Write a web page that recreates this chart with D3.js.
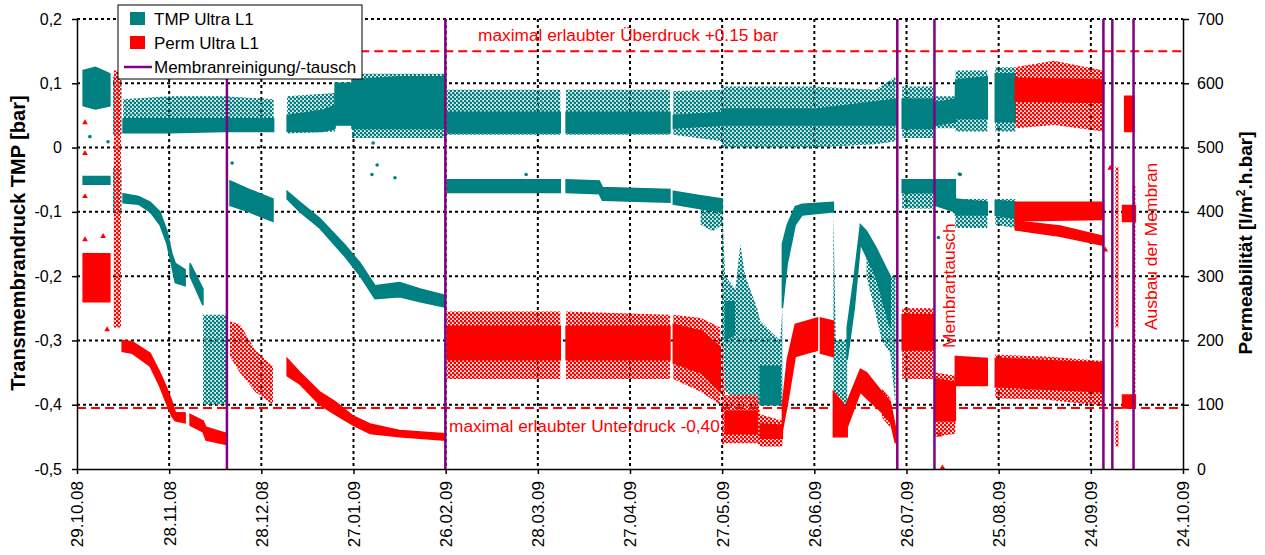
<!DOCTYPE html>
<html>
<head>
<meta charset="utf-8">
<script src="https://d3js.org/d3.v7.min.js"></script>
<style>
  body { margin: 0; background: #fff; }
  text { font-family: Arial, "Liberation Sans", sans-serif; }
</style>
</head>
<body>
<div class="chart"></div>
<script>
// days counted from 29.10.08; TMP values in bar (left axis), Perm in l/m2.h.bar (right axis)
// each band: [day, low, high]
var tmpDense = [
  [[2, 0.065, 0.12], [6, 0.06, 0.125], [10.7, 0.065, 0.115]],
  [[15, 0.023, 0.045], [30, 0.023, 0.045], [48, 0.025, 0.045], [64, 0.025, 0.045]],
  [[68.4, 0.025, 0.05], [80, 0.025, 0.058], [84, 0.03, 0.065]],
  [[84, 0.035, 0.1], [89.5, 0.035, 0.1]],
  [[89.5, 0.03, 0.105], [105, 0.03, 0.11], [120, 0.03, 0.11]],
  [[120.5, 0.023, 0.055], [157.3, 0.023, 0.055]],
  [[159.2, 0.023, 0.055], [193, 0.023, 0.055]],
  [[194.1, 0.03, 0.05], [210, 0.035, 0.055]],
  [[210, 0.035, 0.06], [241, 0.035, 0.06], [266.4, 0.035, 0.075]],
  [[268.6, 0.03, 0.075], [278.7, 0.03, 0.075]],
  [[279.4, 0.035, 0.07], [285.9, 0.04, 0.075], [286, 0.045, 0.105], [296.3, 0.045, 0.11]],
  [[298.9, 0.04, 0.115], [305.4, 0.04, 0.115]],
  [[2, -0.057, -0.045], [10.7, -0.057, -0.045]],
  [[15, -0.086, -0.072], [20, -0.088, -0.076], [23.8, -0.1, -0.085], [27, -0.12, -0.1], [29.3, -0.15, -0.13],
   [30.9, -0.185, -0.165], [32, -0.21, -0.18], [35.2, -0.215, -0.19]],
  [[36.8, -0.2, -0.18], [41, -0.245, -0.22]],
  [[49.8, -0.09, -0.052], [56, -0.1, -0.065], [63.8, -0.115, -0.08]],
  [[68.4, -0.08, -0.068], [72.6, -0.1, -0.085], [79, -0.125, -0.11], [87.3, -0.17, -0.152], [92.2, -0.2, -0.18],
   [97, -0.235, -0.215], [105, -0.232, -0.21], [111.7, -0.24, -0.22], [119.8, -0.248, -0.23]],
  [[120.5, -0.07, -0.05], [157.3, -0.07, -0.05]],
  [[159.2, -0.07, -0.05], [170, -0.072, -0.052], [171, -0.082, -0.062], [193, -0.085, -0.065]],
  [[194.1, -0.088, -0.068], [203, -0.095, -0.075], [210, -0.1, -0.08]],
  [[211, -0.3, -0.24], [214, -0.29, -0.24]],
  [[222.4, -0.4, -0.34], [228.9, -0.4, -0.34]],
  [[229.6, -0.25, -0.15], [231.2, -0.18, -0.12], [233.8, -0.12, -0.092], [236, -0.105, -0.088], [246.2, -0.1, -0.085]],
  [[250.7, -0.33, -0.28], [253, -0.25, -0.2], [255, -0.15, -0.12], [257, -0.17, -0.13], [260, -0.2, -0.155], [264.7, -0.28, -0.2]],
  [[268.6, -0.07, -0.05], [278.7, -0.07, -0.05]],
  [[279.4, -0.09, -0.05], [285.9, -0.1, -0.05]],
  [[285.9, -0.105, -0.08], [296.3, -0.105, -0.085]],
  [[298.9, -0.105, -0.082], [305.4, -0.11, -0.085]]
];
var tmpSparse = [
  [[11.7, 0.02, 0.11], [14.5, 0.02, 0.11]],
  [[11.7, -0.1, -0.03], [14.5, -0.1, -0.03]],
  [[15, 0.023, 0.075], [30, 0.023, 0.08], [48, 0.025, 0.08], [64, 0.025, 0.075]],
  [[68.4, 0.022, 0.08], [84, 0.025, 0.085]],
  [[89.5, 0.015, 0.115], [120, 0.015, 0.115]],
  [[120.5, 0.02, 0.09], [157.3, 0.02, 0.09]],
  [[159.2, 0.02, 0.09], [193, 0.02, 0.09]],
  [[194.1, 0.02, 0.088], [210, 0.01, 0.09]],
  [[210, 0.0, 0.095], [240, 0.0, 0.095], [260, 0.005, 0.09], [266.4, 0.01, 0.11]],
  [[268.6, 0.015, 0.095], [278.7, 0.015, 0.095]],
  [[279.4, 0.03, 0.08], [285.9, 0.03, 0.08], [286, 0.025, 0.12], [296.3, 0.025, 0.12]],
  [[298.9, 0.025, 0.125], [305.4, 0.025, 0.125]],
  [[41, -0.4, -0.26], [48.5, -0.4, -0.26]],
  [[203, -0.12, -0.075], [207, -0.13, -0.08], [210, -0.12, -0.09]],
  [[210, -0.3, -0.1], [211, -0.38, -0.2], [214.3, -0.39, -0.22], [215.9, -0.4, -0.15], [217.5, -0.39, -0.2],
   [221.4, -0.4, -0.25], [222.4, -0.4, -0.27], [228.9, -0.4, -0.3], [229.6, -0.4, -0.25]],
  [[246.2, -0.4, -0.1], [247, -0.4, -0.3], [250.7, -0.4, -0.3]],
  [[257, -0.2, -0.13], [262, -0.3, -0.18], [264.7, -0.32, -0.2], [266.4, -0.4, -0.2]],
  [[268.6, -0.095, -0.05], [278.7, -0.095, -0.05]],
  [[285.9, -0.125, -0.08], [296.3, -0.125, -0.08]],
  [[298.9, -0.12, -0.08], [305.4, -0.125, -0.08]]
];
var permDense = [
  [[2, 260, 335], [10.7, 260, 335]],
  [[14.7, 183, 200], [18, 180, 198], [23.8, 160, 180], [27, 128, 150], [29.3, 100, 125], [30.9, 82, 105], [32, 75, 88], [35.2, 72, 87]],
  [[36.8, 68, 85], [41, 58, 75], [42, 45, 65], [48.8, 38, 55]],
  [[68.4, 145, 172], [72.6, 132, 150], [79, 100, 120], [84, 85, 105], [90, 68, 82], [95.4, 55, 70], [105, 50, 60], [119.8, 45, 55]],
  [[120.5, 170, 222], [157.3, 170, 222]],
  [[159.2, 170, 222], [193, 170, 222]],
  [[194.1, 165, 225], [203, 150, 215], [209.4, 120, 190]],
  [[211, 55, 90], [221.4, 55, 90]],
  [[222.4, 48, 70], [229.6, 48, 68]],
  [[229.6, 60, 100], [231.2, 100, 170], [233.8, 175, 225], [241, 185, 235]],
  [[242, 180, 235], [246.2, 175, 230]],
  [[246.2, 50, 120], [250.7, 50, 95]],
  [[250.7, 65, 105], [255, 120, 155], [257, 110, 150], [262, 88, 120], [264.7, 75, 105], [266.4, 40, 65]],
  [[268.6, 185, 240], [278.7, 185, 240]],
  [[279.4, 75, 140], [285.9, 75, 135]],
  [[285.9, 130, 175], [296.3, 130, 172]],
  [[298.9, 128, 172], [334.1, 120, 165]],
  [[305.4, 386, 415], [334.1, 388, 415]],
  [[305.4, 372, 386], [320, 362, 378], [334.1, 348, 362]],
  [[305.4, 572, 608], [334.1, 570, 605]],
  [[340.3, 385, 410], [344.5, 385, 410]],
  [[340.3, 95, 115], [344.5, 95, 115]],
  [[341, 525, 580], [344, 525, 580]]
];
var permSparse = [
  [[12, 220, 620], [14.3, 220, 620]],
  [[49.8, 175, 230], [53, 150, 225], [58, 120, 185], [63.8, 100, 160]],
  [[120.5, 140, 245], [157.3, 140, 245]],
  [[159.2, 140, 245], [193, 140, 240]],
  [[194.1, 140, 240], [203, 120, 235], [209.4, 100, 220]],
  [[210, 35, 200], [211, 40, 115], [221.4, 40, 115], [222.4, 35, 85], [229.6, 35, 75]],
  [[262, 80, 125], [264.7, 65, 110]],
  [[268.6, 140, 250], [278.7, 140, 250]],
  [[279.4, 50, 150], [285.9, 55, 145]],
  [[298.9, 110, 178], [315, 108, 175], [334.1, 98, 168]],
  [[305.4, 530, 625], [318, 535, 635], [334.1, 525, 620]],
  [[338, 220, 470], [339, 220, 470]],
  [[338, 35, 75], [339, 35, 75]],
  [[343.6, 100, 440], [344.5, 100, 440]]
];
var tmpStray = [[4.2, 0.017], [10.1, 0.009], [50.5, -0.024], [97.7, -0.027], [103.5, -0.047], [96.4, 0.007],
  [96, -0.042], [146.2, -0.042], [287.5, -0.042], [280.4, -0.14], [287.2, -0.041]];
var permStray = [[2.6, 424], [2.6, 357], [8.5, 362], [9.8, 217], [2.6, 539], [2.6, 491], [281.7, 2],
  [280.7, 53], [334.7, 341], [336.3, 468]];
var events = [48.8, 119.9, 267, 279.1, 334.1, 337, 343.9];
var xTicks = d3.range(0, 361, 30);
var tmpTicks = [-0.5, -0.4, -0.3, -0.2, -0.1, 0, 0.1, 0.2];
var permTicks = [0, 100, 200, 300, 400, 500, 600, 700];
var maxOver = 0.15, maxUnder = -0.405, overFrom = 92.2;

var teal = '#008080', red = '#ff0000', purple = '#800080';
var plotLeft = 77, plotRight = 1183, plotTop = 19, plotBottom = 469;

var svg = d3.select('.chart').append('svg')
  .attr('width', 1265)
  .attr('height', 555);

var start = Date.UTC(2008, 9, 29);
function day(d) { return new Date(start + d * 864e5); }
var x = d3.scaleUtc().domain([day(0), day(360)]).range([plotLeft, plotRight]);
var yL = d3.scaleLinear().domain([-0.5, 0.2]).range([plotBottom, plotTop]);
var yR = d3.scaleLinear().domain([0, 700]).range([plotBottom, plotTop]);

var defs = svg.append('defs');
[['dotsTeal', teal], ['dotsRed', red]].forEach(function(p) {
  var pat = defs.append('pattern').attr('id', p[0])
    .attr('width', 4).attr('height', 4).attr('patternUnits', 'userSpaceOnUse');
  pat.append('circle').attr('cx', 1).attr('cy', 1).attr('r', 1.4).attr('fill', p[1]);
  pat.append('circle').attr('cx', 3).attr('cy', 3).attr('r', 1.4).attr('fill', p[1]);
});

// grid
var grid = svg.append('g')
  .attr('stroke', '#000').attr('stroke-width', 2).attr('stroke-dasharray', '3,3');
grid.selectAll('line.h').data(tmpTicks.slice(1)).join('line').attr('class', 'h')
  .attr('x1', plotLeft).attr('x2', plotRight)
  .attr('y1', function(d) { return yL(d); }).attr('y2', function(d) { return yL(d); });
grid.selectAll('line.v').data(xTicks.slice(1, -1)).join('line').attr('class', 'v')
  .attr('y1', plotTop).attr('y2', plotBottom)
  .attr('x1', function(d) { return x(day(d)); }).attr('x2', function(d) { return x(day(d)); });

// limits
var limits = svg.append('g').attr('stroke', red).attr('stroke-width', 2).attr('stroke-dasharray', '9,5');
limits.append('line').attr('x1', x(day(overFrom))).attr('x2', plotRight)
  .attr('y1', yL(maxOver)).attr('y2', yL(maxOver));
limits.append('line').attr('x1', plotLeft).attr('x2', plotRight)
  .attr('y1', yL(maxUnder)).attr('y2', yL(maxUnder));
svg.append('text').text('maximal erlaubter Überdruck +0.15 bar')
  .attr('x', 478).attr('y', yL(maxOver) - 10).attr('fill', red).attr('font-size', 17.3);
svg.append('text').text('maximal erlaubter Unterdruck -0,40 bar')
  .attr('x', 449).attr('y', yL(maxUnder) + 24).attr('fill', red).attr('font-size', 17.3);

// data bands
function band(y) {
  return d3.area()
    .x(function(d) { return x(day(d[0])); })
    .y0(function(d) { return y(d[1]); })
    .y1(function(d) { return y(d[2]); });
}
svg.append('g').selectAll('path').data(tmpSparse).join('path')
  .attr('d', band(yL)).attr('fill', 'url(#dotsTeal)');
svg.append('g').selectAll('path').data(tmpDense).join('path')
  .attr('d', band(yL)).attr('fill', teal).attr('stroke', teal).attr('stroke-width', 1.5);
svg.append('g').selectAll('circle').data(tmpStray).join('circle')
  .attr('cx', function(d) { return x(day(d[0])); }).attr('cy', function(d) { return yL(d[1]); })
  .attr('r', 1.8).attr('fill', teal);
svg.append('g').selectAll('path').data(permSparse).join('path')
  .attr('d', band(yR)).attr('fill', 'url(#dotsRed)');
svg.append('g').selectAll('path').data(permDense).join('path')
  .attr('d', band(yR)).attr('fill', red).attr('stroke', red).attr('stroke-width', 1.5);
svg.append('g').selectAll('path').data(permStray).join('path')
  .attr('d', d3.symbol(d3.symbolTriangle, 14))
  .attr('transform', function(d) { return 'translate(' + x(day(d[0])) + ',' + yR(d[1]) + ')'; })
  .attr('fill', red);

// cleaning / membrane change
svg.append('g').selectAll('line').data(events).join('line')
  .attr('x1', function(d) { return x(day(d)); }).attr('x2', function(d) { return x(day(d)); })
  .attr('y1', plotTop).attr('y2', plotBottom)
  .attr('stroke', purple).attr('stroke-width', 2.5);

svg.append('text').text('Membrantausch')
  .attr('transform', 'translate(955,348) rotate(-90)')
  .attr('fill', red).attr('font-size', 17.4);
svg.append('text').text('Ausbau der Membran')
  .attr('transform', 'translate(1157,330) rotate(-90)')
  .attr('fill', red).attr('font-size', 17.4);

// axes
var fmt = function(d) { return d === 0 ? '0' : d3.format('.1f')(d).replace('−', '-').replace('.', ','); };
var axL = svg.append('g').attr('transform', 'translate(' + plotLeft + ',0)')
  .call(d3.axisLeft(yL).tickValues(tmpTicks).tickFormat(fmt).tickSize(5).tickSizeOuter(0).tickPadding(10));
var axR = svg.append('g').attr('transform', 'translate(' + plotRight + ',0)')
  .call(d3.axisRight(yR).tickValues(permTicks).tickSize(6).tickSizeOuter(0).tickPadding(8));
var axB = svg.append('g').attr('transform', 'translate(0,' + plotBottom + ')')
  .call(d3.axisBottom(x).tickValues(xTicks.map(day)).tickFormat(d3.utcFormat('%d.%m.%y')).tickSize(5).tickSizeOuter(0));
[axL, axR, axB].forEach(function(a) {
  a.attr('font-size', 16).attr('font-family', 'Arial, "Liberation Sans", sans-serif');
  a.selectAll('text').attr('fill', '#000');
  a.selectAll('path, line').attr('stroke', '#000').attr('stroke-width', 1.5);
});
axB.attr('font-size', 17);
axB.selectAll('text')
  .attr('transform', 'rotate(-90)').attr('text-anchor', 'end')
  .attr('x', -12).attr('y', 0).attr('dy', '0.35em');

svg.append('text').text('Transmembrandruck TMP [bar]')
  .attr('transform', 'translate(25,243) rotate(-90)')
  .attr('text-anchor', 'middle').attr('font-weight', 'bold').attr('font-size', 20);
var rt = svg.append('text')
  .attr('transform', 'translate(1252,243) rotate(-90)')
  .attr('text-anchor', 'middle').attr('font-weight', 'bold').attr('font-size', 19);
rt.append('tspan').text('Permeabilität [l/m');
rt.append('tspan').text('2').attr('font-size', 12).attr('dy', -7);
rt.append('tspan').text('.h.bar]').attr('dy', 7);

// legend
var lg = svg.append('g');
lg.append('rect').attr('x', 118).attr('y', 5).attr('width', 244).attr('height', 74)
  .attr('fill', '#fff').attr('stroke', '#000').attr('stroke-width', 1);
lg.append('rect').attr('x', 130).attr('y', 12).attr('width', 15).attr('height', 13).attr('fill', teal);
lg.append('rect').attr('x', 130).attr('y', 36).attr('width', 15).attr('height', 13).attr('fill', red);
lg.append('line').attr('x1', 124).attr('x2', 152).attr('y1', 67).attr('y2', 67)
  .attr('stroke', purple).attr('stroke-width', 2.5);
[['TMP Ultra L1', 25], ['Perm Ultra L1', 49], ['Membranreinigung/-tausch', 72.5]].forEach(function(t) {
  lg.append('text').text(t[0]).attr('x', 154).attr('y', t[1]).attr('font-size', 17);
});
</script>
</body>
</html>
